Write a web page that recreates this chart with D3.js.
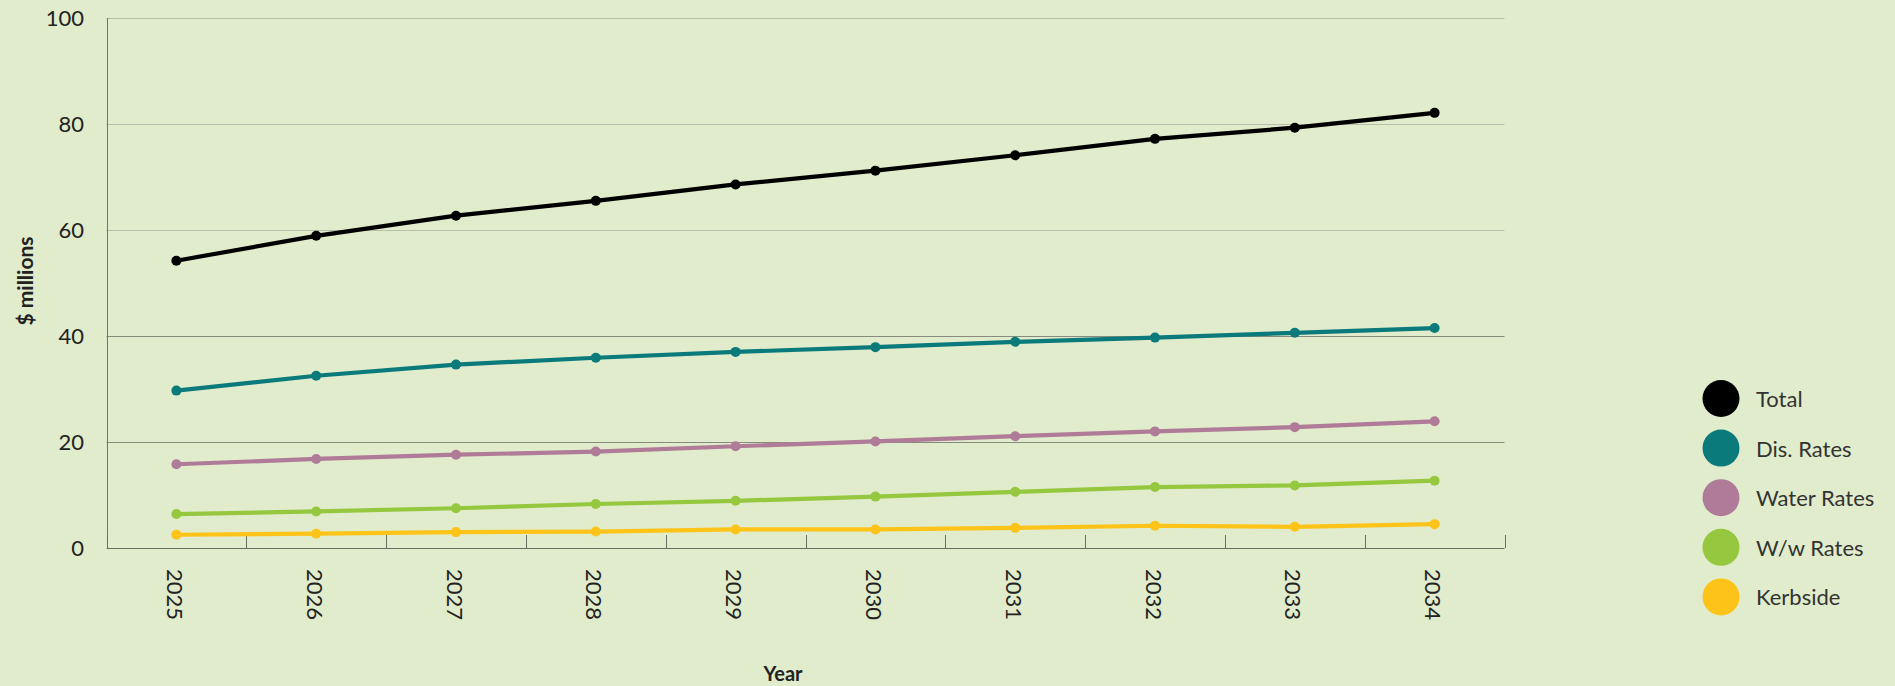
<!DOCTYPE html>
<html>
<head>
<meta charset="utf-8">
<script src="https://cdn.jsdelivr.net/npm/d3@7"></script>
<style>
  html, body { margin: 0; padding: 0; background: #e0eccb; }
  svg { display: block; font-family: Lato, "Noto Sans", sans-serif; }
</style>
</head>
<body>
<svg id="chart" width="1895" height="686"></svg>
<script>
const years = ["2025","2026","2027","2028","2029","2030","2031","2032","2033","2034"];
const seriesNames = ["Total","Dis. Rates","Water Rates","W/w Rates","Kerbside"];
const total      = [54.2, 58.9, 62.7, 65.5, 68.6, 71.2, 74.1, 77.2, 79.3, 82.1];
const disRates   = [29.7, 32.5, 34.6, 35.9, 37.0, 37.9, 38.9, 39.7, 40.6, 41.5];
const waterRates = [15.8, 16.8, 17.6, 18.2, 19.2, 20.1, 21.1, 22.0, 22.8, 23.9];
const wwRates    = [6.4, 6.9, 7.5, 8.3, 8.9, 9.7, 10.6, 11.5, 11.8, 12.7];
const kerbside   = [2.5, 2.7, 3.0, 3.1, 3.5, 3.5, 3.8, 4.2, 4.0, 4.5];
const yTicks = [0, 20, 40, 60, 80, 100];
const colors = ["#000000", "#0b7a7b", "#b07b98", "#95c83f", "#fdc318"];

const seriesValues = [total, disRates, waterRates, wwRates, kerbside];

const svg = d3.select("#chart");
const L = 106.5, R = 1504.5, T = 18, B = 548;

const x = d3.scaleBand().domain(years).range([L, R]).padding(0);
const y = d3.scaleLinear().domain([0, 100]).range([B, T]);
const cx = d => x(d) + x.bandwidth() / 2;

// gridlines
svg.append("g").selectAll("line")
  .data(yTicks.filter(v => v > 0))
  .join("line")
  .attr("x1", L).attr("x2", R)
  .attr("y1", d => Math.round(y(d)) + 0.5).attr("y2", d => Math.round(y(d)) + 0.5)
  .attr("stroke", d => d >= 60 ? "#b8bea9" : "#878b7e")
  .attr("stroke-width", 1);

// y axis labels
const yAxis = d3.axisLeft(y).tickValues(yTicks).tickSize(0).tickPadding(22);
const gy = svg.append("g").attr("transform", `translate(${L},0)`).call(yAxis);
gy.select(".domain").remove();
gy.selectAll("text")
  .attr("font-size", 22).attr("fill", "#222").attr("font-family", "Lato, sans-serif")
  .attr("x", 84 - L).attr("text-anchor", "end");

// left axis line
svg.append("line")
  .attr("x1", Math.round(L) + 0.5).attr("x2", Math.round(L) + 0.5)
  .attr("y1", T).attr("y2", B)
  .attr("stroke", "#707468").attr("stroke-width", 1);

// bottom axis line
svg.append("line")
  .attr("x1", L).attr("x2", R)
  .attr("y1", B + 0.5).attr("y2", B + 0.5)
  .attr("stroke", "#6a6e63").attr("stroke-width", 1.2);

// x ticks at band boundaries (inward)
const boundaries = years.map(d => x(d)).concat([x(years[years.length - 1]) + x.bandwidth()]);
svg.append("g").selectAll("line")
  .data(boundaries)
  .join("line")
  .attr("x1", d => Math.round(d) + 0.5).attr("x2", d => Math.round(d) + 0.5)
  .attr("y1", B - 13).attr("y2", B)
  .attr("stroke", "#6a6e63").attr("stroke-width", 1);

// x labels rotated
svg.append("g").selectAll("text")
  .data(years)
  .join("text")
  .attr("transform", d => `translate(${cx(d) - 1},${B + 21}) rotate(90)`)
  .attr("text-anchor", "start")
  .attr("dominant-baseline", "central")
  .attr("font-size", 22)
  .attr("fill", "#222")
  .text(d => d);

// axis titles
svg.append("text")
  .attr("transform", `translate(33,${(T + B) / 2 - 2}) rotate(-90)`)
  .attr("text-anchor", "middle")
  .attr("font-size", 21).attr("font-weight", "bold").attr("fill", "#222")
  .text("$ millions");

svg.append("text")
  .attr("x", 783).attr("y", 681)
  .attr("text-anchor", "middle")
  .attr("font-size", 20).attr("font-weight", "bold").attr("fill", "#222")
  .text("Year");

// lines and markers (draw bottom series first, Total last on top)
const line = d3.line().x((d, i) => cx(years[i])).y(d => y(d));
const order = [4, 3, 2, 1, 0];
order.forEach(si => {
  const vals = seriesValues[si];
  const g = svg.append("g");
  g.append("path")
    .datum(vals)
    .attr("d", line)
    .attr("fill", "none")
    .attr("stroke", colors[si])
    .attr("stroke-width", 4.2)
    .attr("stroke-linejoin", "round");
  g.selectAll("circle")
    .data(vals)
    .join("circle")
    .attr("cx", (d, i) => cx(years[i]))
    .attr("cy", d => y(d))
    .attr("r", 5)
    .attr("fill", colors[si]);
});

// legend
const leg = svg.append("g").attr("transform", "translate(1721,398.5)");
const items = leg.selectAll("g")
  .data(seriesNames)
  .join("g")
  .attr("transform", (d, i) => `translate(0,${i * 49.6})`);
items.append("circle").attr("r", 18.5).attr("fill", (d, i) => colors[i]);
items.append("text")
  .attr("x", 35).attr("y", 0)
  .attr("dominant-baseline", "central")
  .attr("font-size", 22).attr("fill", "#333")
  .text(d => d);
</script>
</body>
</html>
